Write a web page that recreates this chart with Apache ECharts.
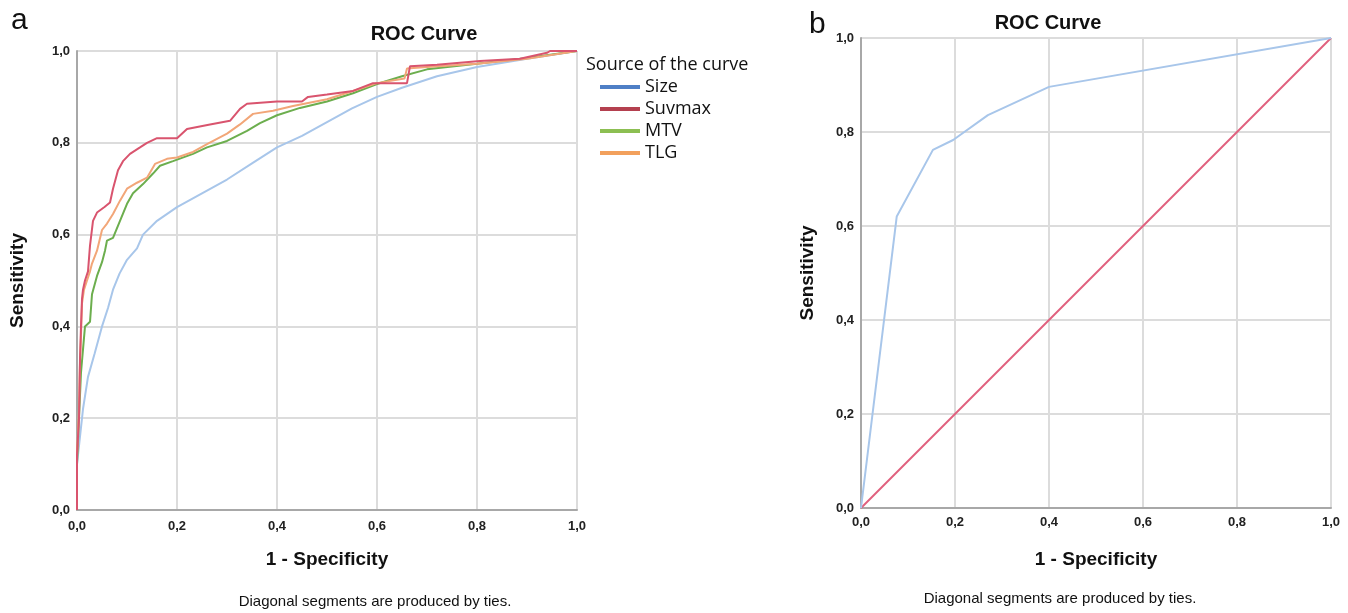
<!DOCTYPE html>
<html><head><meta charset="utf-8">
<script src="https://cdn.jsdelivr.net/npm/echarts@6/dist/echarts.min.js"></script>
<style>html,body{margin:0;padding:0;background:#fff}#c{width:1348px;height:613px}</style>
</head><body><div id="c"></div>
<script>
// ---- data (1 - specificity, sensitivity) ----
const sizeCurve = [[0,0],[0,0.10],[0.005,0.15],[0.012,0.22],[0.022,0.29],[0.035,0.34],[0.05,0.40],[0.062,0.44],[0.072,0.48],[0.085,0.515],[0.1,0.545],[0.12,0.57],[0.132,0.60],[0.16,0.63],[0.2,0.66],[0.25,0.69],[0.3,0.72],[0.35,0.755],[0.4,0.79],[0.45,0.815],[0.5,0.845],[0.55,0.875],[0.6,0.90],[0.65,0.92],[0.72,0.945],[0.8,0.965],[0.9,0.983],[1,1]];
const suvmaxCurve = [[0,0],[0,0.12],[0.004,0.2],[0.006,0.33],[0.008,0.40],[0.01,0.46],[0.012,0.48],[0.016,0.50],[0.022,0.52],[0.026,0.576],[0.032,0.63],[0.04,0.648],[0.055,0.66],[0.066,0.67],[0.072,0.70],[0.082,0.74],[0.092,0.76],[0.106,0.776],[0.126,0.79],[0.14,0.80],[0.16,0.81],[0.2,0.81],[0.22,0.83],[0.266,0.84],[0.306,0.848],[0.326,0.874],[0.34,0.885],[0.40,0.89],[0.45,0.89],[0.462,0.90],[0.5,0.905],[0.552,0.913],[0.592,0.93],[0.66,0.93],[0.666,0.967],[0.72,0.97],[0.806,0.978],[0.886,0.983],[0.94,0.996],[0.946,1.0],[1,1]];
const mtvCurve = [[0,0],[0,0.10],[0.004,0.2],[0.008,0.30],[0.012,0.35],[0.016,0.40],[0.026,0.41],[0.03,0.47],[0.04,0.51],[0.05,0.54],[0.056,0.565],[0.06,0.587],[0.072,0.593],[0.086,0.63],[0.1,0.667],[0.112,0.69],[0.132,0.71],[0.152,0.733],[0.166,0.75],[0.192,0.76],[0.232,0.776],[0.26,0.79],[0.30,0.804],[0.34,0.826],[0.366,0.843],[0.40,0.86],[0.446,0.876],[0.5,0.89],[0.552,0.908],[0.6,0.928],[0.65,0.945],[0.7,0.96],[0.8,0.972],[0.9,0.985],[1,1]];
const tlgCurve = [[0,0],[0,0.12],[0.004,0.22],[0.006,0.32],[0.008,0.38],[0.01,0.45],[0.014,0.48],[0.02,0.50],[0.026,0.52],[0.03,0.537],[0.04,0.565],[0.05,0.61],[0.06,0.624],[0.072,0.645],[0.086,0.674],[0.1,0.70],[0.12,0.713],[0.14,0.724],[0.156,0.754],[0.18,0.765],[0.2,0.768],[0.232,0.78],[0.26,0.797],[0.30,0.82],[0.326,0.84],[0.352,0.863],[0.392,0.87],[0.432,0.88],[0.5,0.895],[0.552,0.913],[0.6,0.93],[0.655,0.94],[0.66,0.962],[0.7,0.965],[0.8,0.972],[0.9,0.983],[1,1]];
const rocB = [[0,0],[0.076,0.62],[0.153,0.762],[0.196,0.783],[0.27,0.836],[0.4,0.896],[1,1]];
const refLine = [[0,0],[1,1]];
const legendNames = ['Size','Suvmax','MTV','TLG'];
const tickLabels = ['0,0','0,2','0,4','0,6','0,8','1,0'];

const fmt = v => tickLabels[Math.round(v/0.2)] || '';
const chart = echarts.init(document.getElementById('c'));
const FONT = 'Liberation Sans, Arial, sans-serif';

function mkX(idx, gap, margin){return {type:'value',gridIndex:idx,min:0,max:1,interval:0.2,
  name:'1 - Specificity',nameLocation:'middle',nameGap:gap,
  nameTextStyle:{fontFamily:FONT,fontSize:19,fontWeight:'bold',color:'#111'},
  axisLine:{show:true,lineStyle:{color:'#a8a8a8',width:2}},axisTick:{show:false},
  axisLabel:{formatter:fmt,fontFamily:FONT,fontSize:13,fontWeight:'bold',color:'#222',margin:margin},
  splitLine:{show:true,lineStyle:{color:'#dcdcdc',width:2}}};}
function mkY(idx, gap){return {type:'value',gridIndex:idx,min:0,max:1,interval:0.2,
  name:'Sensitivity',nameLocation:'middle',nameGap:gap,
  nameTextStyle:{fontFamily:FONT,fontSize:19,fontWeight:'bold',color:'#111'},
  axisLine:{show:true,lineStyle:{color:'#a8a8a8',width:2}},axisTick:{show:false},
  axisLabel:{formatter:fmt,fontFamily:FONT,fontSize:13,fontWeight:'bold',color:'#222',margin:7},
  splitLine:{show:true,lineStyle:{color:'#dcdcdc',width:2}}};}
function line(name, data, color, xi, z){return {name:name,type:'line',data:data,xAxisIndex:xi,yAxisIndex:xi,
  showSymbol:false,symbol:'none',lineStyle:{color:color,width:2},itemStyle:{color:color},z:z,animation:false};}

chart.setOption({
  animation:false,
  grid:[{left:77,top:51,width:500,height:459},{left:861,top:38,width:470,height:470}],
  xAxis:[mkX(0,40,10),mkX(1,42,8)],
  yAxis:[mkY(0,50),mkY(1,44)],
  legend:{left:595,top:72,orient:'vertical',itemWidth:40,itemHeight:4,itemGap:2,icon:'rect',
    textStyle:{fontFamily:'Open Sans, sans-serif',fontSize:18,color:'#111',lineHeight:20},
    data:[{name:'Size',itemStyle:{color:'#4f7fc6'}},{name:'Suvmax',itemStyle:{color:'#b4404f'}},
          {name:'MTV',itemStyle:{color:'#8cbf52'}},{name:'TLG',itemStyle:{color:'#f2a05c'}}],
    selectedMode:false},
  series:[
    line('Size',sizeCurve,'#a8c6ea',0,3),
    line('MTV',mtvCurve,'#6cae4e',0,4),
    line('TLG',tlgCurve,'#f2a678',0,5),
    line('Suvmax',suvmaxCurve,'#d9546e',0,6),
    line('ROC',rocB,'#a8c6ea',1,4),
    line('Reference',refLine,'#e0607e',1,3)
  ],
  graphic:[
    {type:'text',left:11,top:6,style:{text:'a',fontFamily:FONT,fontSize:30,fill:'#111'}},
    {type:'text',left:809,top:10,style:{text:'b',fontFamily:FONT,fontSize:30,fill:'#111'}},
    {type:'text',x:424,y:34,style:{text:'ROC Curve',fontFamily:FONT,fontSize:20,fontWeight:'bold',fill:'#111',textAlign:'center',textVerticalAlign:'middle'}},
    {type:'text',x:1048,y:23,style:{text:'ROC Curve',fontFamily:FONT,fontSize:20,fontWeight:'bold',fill:'#111',textAlign:'center',textVerticalAlign:'middle'}},
    {type:'text',x:586,y:65,style:{text:'Source of the curve',fontFamily:'Open Sans, sans-serif',fontSize:18,fill:'#111',textVerticalAlign:'middle'}},
    {type:'text',x:375,y:602,style:{text:'Diagonal segments are produced by ties.',fontFamily:FONT,fontSize:15,fill:'#111',textAlign:'center',textVerticalAlign:'middle'}},
    {type:'text',x:1060,y:599,style:{text:'Diagonal segments are produced by ties.',fontFamily:FONT,fontSize:15,fill:'#111',textAlign:'center',textVerticalAlign:'middle'}}
  ]
});
</script></body></html>
